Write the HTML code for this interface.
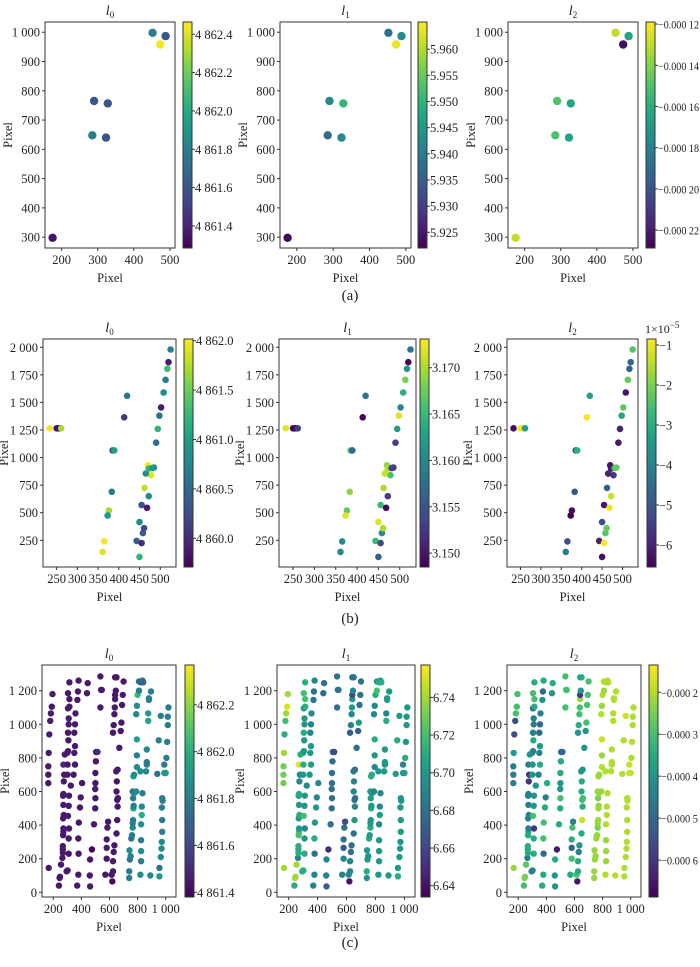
<!DOCTYPE html>
<html><head><meta charset="utf-8">
<style>
html,body{margin:0;padding:0;background:#fff;}
svg, svg text{font-family:"Liberation Serif","Times New Roman","Nimbus Roman","DejaVu Serif",serif;}
</style></head>
<body>
<svg id="fig" width="700" height="962" viewBox="0 0 700 962" xmlns="http://www.w3.org/2000/svg" font-family="Liberation Serif, Times New Roman, serif"></svg>
<script>
// ---------- Row (a) data ----------
const aX = [175, 290, 328, 285, 323, 452, 488, 473];
const aY = [298, 765, 757, 648, 640, 998, 987, 958];
const aL0 = [4861.35, 4861.6, 4861.6, 4861.8, 4861.6, 4861.8, 4861.6, 4862.45];
const aL1 = [5.923, 5.942, 5.950, 5.937, 5.942, 5.938, 5.943, 5.964];
const aL2 = [-0.000130, -0.000150, -0.000165, -0.000150, -0.000165, -0.000130, -0.000165, -0.000225];
const aXTicks = [200, 300, 400, 500];
const aYTicks = [300, 400, 500, 600, 700, 800, 900, 1000];

// ---------- Row (b) data ----------
const bX = [233,250,254,257,261,385,389,420,413,383,376,373,365,361,450,443,455,458,461,450,455,468,472,462,470,478,465,472,481,485,490,494,498,502,508,513,517,520,525];
const bY = [1265,1265,1265,1265,1265,1065,1065,1560,1365,690,520,475,240,145,100,245,225,315,360,415,570,545,650,725,930,840,855,900,905,910,1135,1260,1380,1455,1590,1705,1805,1865,1980];
const bL0 = [4862.0,4859.8,4859.8,4859.8,4861.7,4860.2,4861.0,4860.6,4860.1,4860.7,4861.7,4860.9,4862.0,4861.9,4861.2,4860.4,4860.0,4860.4,4860.2,4860.8,4860.3,4859.9,4860.8,4861.8,4862.0,4861.9,4860.8,4861.2,4860.9,4860.9,4860.5,4861.2,4860.6,4859.9,4860.8,4860.7,4861.3,4859.9,4860.7];
const bL1 = [3.172,3.149,3.149,3.149,3.153,3.166,3.157,3.158,3.149,3.169,3.167,3.172,3.160,3.160,3.156,3.165,3.154,3.160,3.170,3.172,3.165,3.149,3.153,3.170,3.169,3.166,3.171,3.170,3.153,3.153,3.153,3.162,3.172,3.160,3.164,3.168,3.161,3.149,3.158];
const bL2 = [-6.3,-0.9,-0.9,-0.9,-3.3,-4.8,-3.0,-3.3,-0.9,-5.0,-6.3,-6.5,-5.2,-4.2,-6.3,-6.0,-0.8,-2.4,-2.2,-5.2,-6.2,-1.0,-1.3,-4.8,-6.3,-5.6,-6.0,-6.1,-2.5,-2.2,-6.2,-6.0,-3.2,-2.3,-6.2,-2.2,-4.8,-4.6,-2.4];
const bXTicks = [250, 300, 350, 400, 450, 500];
const bYTicks = [250, 500, 750, 1000, 1250, 1500, 1750, 2000];

// ---------- Row (c) data ----------
const cX = [168,165,165,165,168,172,178,183,190,195,
 240,245,248,255,
 265,268,268,268,270,272,272,270,275,272,270,272,275,278,272,282,
 295,302,310,310,312,305,310,312,325,300,302,300,305,308,305,310,310,305,315,315,305,315,
 345,355,350,355,350,355,358,
 370,378,380,378,382,390,395,405,372,375,380,
 440,445,462,460,462,475,
 490,498,500,498,500,500,503,505,515,
 535,540,545,535,
 570,580,580,580,585,590,
 620,615,625,625,630,635,625,630,635,638,640,640,645,650,640,
 650,655,658,655,660,650,652,648,658,
 670,680,685,690,695,700,
 740,740,745,750,742,
 755,760,765,765,768,770,772,768,775,765,770,775,
 790,795,795,795,790,795,800,810,810,
 820,825,825,825,825,830,830,835,820,
 825,835,840,
 860,865,865,865,875,875,880,880,895,890,
 940,950,
 955,955,965,970,972,975,975,972,978,975,
 990,1000,990,965,
 1005,1010,1015,1015,1020];
const cY = [145,650,700,750,830,940,1020,1065,1105,1180,
 40,85,92,165,
 205,235,255,275,340,360,380,440,460,520,575,585,660,700,760,820,
 125,130,230,320,380,455,515,575,635,700,760,830,840,905,950,1000,1035,1095,1105,1150,1185,1250,
 700,760,830,870,950,1000,1065,
 40,105,230,320,415,505,565,650,1145,1195,1260,
 1185,1245,35,100,195,255,
 405,500,560,615,650,710,780,835,835,
 1100,1205,1205,1285,
 105,200,265,315,385,420,
 65,105,125,185,240,280,950,995,1060,1100,1150,1175,1200,1280,1280,
 350,430,510,550,560,600,660,720,730,
 860,960,1010,1115,1175,1255,
 85,125,195,215,250,
 320,340,385,410,430,500,515,560,590,600,690,700,
 600,745,815,910,1060,1110,1175,1200,1255,
 105,185,245,310,405,460,510,590,720,
 1250,1260,1250,
 720,760,775,850,1020,1065,1145,1155,1195,100,
 705,905,
 95,145,210,260,300,360,430,505,545,560,
 710,710,760,1050,
 800,895,995,1045,1100];
const cL0 = [4861.45,4861.45,4861.45,4861.45,4861.45,4861.45,4861.45,4861.45,4861.45,4861.45,
 4861.45,4861.45,4861.45,4861.45,
 4861.45,4861.45,4861.45,4861.45,4861.45,4861.45,4861.45,4861.45,4861.45,4861.45,4861.45,4861.45,4861.45,4861.45,4861.5,4861.45,
 4861.45,4861.45,4861.45,4861.45,4861.45,4861.45,4861.45,4861.45,4861.45,4861.45,4861.45,4861.45,4861.45,4861.45,4861.45,4861.45,4861.45,4861.45,4861.45,4861.45,4861.45,4861.45,
 4861.45,4861.45,4861.45,4861.45,4861.45,4861.45,4861.45,
 4861.45,4861.45,4861.45,4861.45,4861.45,4861.45,4861.45,4861.45,4861.45,4861.45,4861.45,
 4861.45,4861.45,4861.45,4861.45,4861.45,4861.37,
 4861.45,4861.45,4861.45,4861.45,4861.45,4861.45,4861.45,4861.45,4861.5,
 4861.45,4861.45,4861.45,4861.45,
 4861.45,4861.45,4861.45,4861.45,4861.45,4861.45,
 4861.4,4861.45,4861.45,4861.45,4861.45,4861.45,4861.45,4861.45,4861.45,4861.45,4861.45,4861.45,4861.45,4861.45,4861.45,
 4861.45,4861.45,4861.45,4861.45,4861.45,4861.45,4861.45,4861.45,4861.45,
 4861.45,4861.45,4861.45,4861.45,4861.45,4861.45,
 4861.8,4861.8,4861.75,4861.8,4861.85,
 4861.75,4861.8,4861.85,4861.8,4861.8,4861.95,4861.8,4861.8,4861.85,4861.8,4861.95,4861.85,
 4861.85,4861.85,4861.8,4861.95,4861.85,4861.85,4862.05,4861.8,4861.75,
 4861.85,4861.8,4861.85,4861.8,4861.85,4862.0,4861.85,4861.8,4861.85,
 4861.7,4861.75,4861.7,
 4861.85,4861.8,4861.8,4861.85,4861.95,4861.9,4861.8,4861.8,4861.8,4861.85,
 4861.75,4861.8,
 4861.9,4861.75,4861.85,4861.85,4861.85,4861.8,4861.8,4861.8,4861.8,4861.8,
 4861.9,4861.9,4861.8,4861.8,
 4861.8,4861.8,4861.8,4861.8,4861.8];
const cL1 = [6.74,6.73,6.73,6.73,6.74,6.71,6.72,6.74,6.75,6.74,
 6.71,6.74,6.74,6.74,
 6.69,6.71,6.71,6.71,6.72,6.72,6.70,6.70,6.71,6.70,6.70,6.71,6.69,6.69,6.75,6.71,
 6.71,6.71,6.71,6.70,6.69,6.72,6.70,6.70,6.69,6.70,6.71,6.71,6.70,6.70,6.71,6.70,6.70,6.70,6.71,6.72,6.72,6.71,
 6.70,6.70,6.70,6.70,6.69,6.69,6.69,
 6.69,6.69,6.68,6.71,6.70,6.70,6.69,6.69,6.68,6.68,6.69,
 6.68,6.68,6.67,6.69,6.69,6.65,
 6.68,6.68,6.68,6.68,6.68,6.68,6.68,6.68,6.66,
 6.68,6.68,6.68,6.68,
 6.69,6.69,6.67,6.68,6.68,6.66,
 6.64,6.69,6.69,6.69,6.68,6.68,6.67,6.69,6.69,6.70,6.70,6.66,6.69,6.68,6.68,
 6.68,6.70,6.69,6.68,6.68,6.69,6.69,6.69,6.68,
 6.68,6.67,6.70,6.68,6.68,6.68,
 6.70,6.71,6.70,6.70,6.70,
 6.71,6.70,6.71,6.70,6.70,6.71,6.70,6.70,6.70,6.70,6.71,6.71,
 6.69,6.69,6.70,6.71,6.69,6.69,6.71,6.72,6.70,
 6.70,6.70,6.70,6.70,6.69,6.70,6.69,6.69,6.70,
 6.71,6.70,6.71,
 6.70,6.70,6.70,6.70,6.71,6.69,6.70,6.70,6.70,6.70,
 6.70,6.71,
 6.71,6.70,6.70,6.70,6.70,6.70,6.70,6.70,6.70,6.70,
 6.70,6.70,6.69,6.70,
 6.71,6.70,6.70,6.70,6.70];
const cL2 = [-0.00022,-0.00045,-0.00045,-0.00045,-0.00040,-0.00055,-0.00055,-0.00030,-0.00030,-0.00030,
 -0.00030,-0.00025,-0.00025,-0.00028,
 -0.00045,-0.00035,-0.00035,-0.00035,-0.00035,-0.00035,-0.00045,-0.00045,-0.00045,-0.00045,-0.00045,-0.00045,-0.0006,-0.0006,-0.00045,-0.0004,
 -0.00045,-0.00045,-0.00035,-0.00035,-0.0006,-0.0003,-0.0004,-0.0004,-0.0004,-0.0004,-0.0004,-0.0004,-0.00045,-0.00035,-0.00045,-0.00045,-0.00045,-0.0005,-0.00035,-0.0003,-0.0003,-0.00035,
 -0.00045,-0.00035,-0.00045,-0.0004,-0.0005,-0.0005,-0.00045,
 -0.00035,-0.00035,-0.0005,-0.0003,-0.0003,-0.00035,-0.00045,-0.00035,-0.0004,-0.0005,-0.00035,
 -0.0004,-0.00035,-0.0004,-0.0004,-0.00035,-0.00065,
 -0.00035,-0.00035,-0.0003,-0.0004,-0.0004,-0.00035,-0.00035,-0.0005,-0.0005,
 -0.0003,-0.0003,-0.0003,-0.0003,
 -0.00035,-0.0003,-0.0005,-0.00035,-0.0003,-0.00045,
 -0.00065,-0.0003,-0.00035,-0.00035,-0.00045,-0.0004,-0.0004,-0.00035,-0.0003,-0.0003,-0.00022,-0.0006,-0.0004,-0.00035,-0.00035,
 -0.00035,-0.00018,-0.00035,-0.0003,-0.0003,-0.00035,-0.00035,-0.0004,-0.0004,
 -0.0004,-0.0004,-0.0003,-0.0003,-0.0003,-0.0003,
 -0.00022,-0.00022,-0.00022,-0.00022,-0.00022,
 -0.00022,-0.00022,-0.00025,-0.00022,-0.00022,-0.00022,-0.00022,-0.00025,-0.00022,-0.00022,-0.00022,-0.00022,
 -0.00022,-0.0002,-0.00022,-0.00018,-0.0002,-0.00022,-0.0002,-0.00022,-0.0002,
 -0.0002,-0.00022,-0.00022,-0.00022,-0.0002,-0.0002,-0.0002,-0.0002,-0.0002,
 -0.0002,-0.0002,-0.0002,
 -0.0002,-0.0002,-0.0002,-0.0002,-0.0002,-0.0002,-0.0002,-0.0002,-0.0002,-0.0002,
 -0.0002,-0.0002,
 -0.0002,-0.0002,-0.0002,-0.0002,-0.0002,-0.0002,-0.0002,-0.0002,-0.0002,-0.0002,
 -0.00018,-0.00018,-0.00018,-0.00018,
 -0.0002,-0.0002,-0.0002,-0.0002,-0.0002];
const cXTicks = [200, 400, 600, 800, 1000];
const cYTicks = [0, 200, 400, 600, 800, 1000, 1200];

// colorbar ranges and tick labels
const aCb0 = [4861.285, 4862.464]; const aCb0Ticks = [4861.4, 4861.6, 4861.8, 4862.0, 4862.2, 4862.4];
const aCb1 = [5.922, 5.9652]; const aCb1Ticks = [5.925, 5.930, 5.935, 5.940, 5.945, 5.950, 5.955, 5.960];
const aCb2 = [-0.0002287, -0.000119]; const aCb2Ticks = [-0.00022, -0.00020, -0.00018, -0.00016, -0.00014, -0.00012];
const bCb0 = [4859.71, 4862.017]; const bCb0Ticks = [4860.0, 4860.5, 4861.0, 4861.5, 4862.0];
const bCb1 = [3.1485, 3.1731]; const bCb1Ticks = [3.150, 3.155, 3.160, 3.165, 3.170];
const bCb2 = [-6.55, -0.85]; const bCb2Ticks = [-6, -5, -4, -3, -2, -1];
const cCb0 = [4861.38, 4862.37]; const cCb0Ticks = [4861.4, 4861.6, 4861.8, 4862.0, 4862.2];
const cCb1 = [6.634, 6.7572]; const cCb1Ticks = [6.64, 6.66, 6.68, 6.70, 6.72, 6.74];
const cCb2 = [-0.000688, -0.000135]; const cCb2Ticks = [-0.0006, -0.0005, -0.0004, -0.0003, -0.0002];

const NS = "http://www.w3.org/2000/svg";
const svg = document.getElementById('fig');
const FF = '"Liberation Serif","Times New Roman",serif';
function el(tag, attrs, parent) {
  const e = document.createElementNS(NS, tag);
  for (const k in attrs) e.setAttribute(k, attrs[k]);
  (parent || svg).appendChild(e);
  return e;
}
const VIR = ["#440154","#482475","#414487","#355f8d","#2a788e","#21918c","#22a884","#44bf70","#7ad151","#bddf26","#fde725"];
function hex(h){return [parseInt(h.substr(1,2),16),parseInt(h.substr(3,2),16),parseInt(h.substr(5,2),16)];}
function viridis(t){
  t = Math.max(0, Math.min(1, t));
  const f = t*10, i = Math.min(9, Math.floor(f)), u = f - i;
  const a = hex(VIR[i]), b = hex(VIR[i+1]);
  return "rgb(" + a.map((v,j)=>Math.round(v+(b[j]-v)*u)).join(",") + ")";
}
function fmtThousands(v, dec){
  let s = Math.abs(v).toFixed(dec);
  let [ip, fp] = s.split(".");
  ip = ip.replace(/\B(?=(\d{3})+(?!\d))/g, " ");
  let r = ip + (fp ? "." + fp : "");
  return (v < 0 ? "\u2212" : "") + r;
}
function fmtSmall(v){
  let s = Math.abs(v).toFixed(5);
  s = s.slice(0,5) + " " + s.slice(5);
  return "\u2212" + s;
}
function fmtSmall4(v){
  let s = Math.abs(v).toFixed(4);
  s = s.slice(0,5) + " " + s.slice(5);
  return "\u2212" + s;
}

function panel(cfg){
  const g = el('g', {'font-family': FF});
  
  
  const {L, R, T, B, xd, yd} = cfg;
  const sx = v => L + (v - xd[0]) / (xd[1] - xd[0]) * (R - L);
  const sy = v => B - (v - yd[0]) / (yd[1] - yd[0]) * (B - T);
  const pg = el('g', {}, g);
  
  
  const n = Math.min(cfg.xs.length, cfg.ys.length, cfg.vals.length);
  for (let i = 0; i < n; i++) {
    const t = (cfg.vals[i] - cfg.cb[0]) / (cfg.cb[1] - cfg.cb[0]);
    const c = el('circle', {cx: sx(cfg.xs[i]).toFixed(1), cy: sy(cfg.ys[i]).toFixed(1), r: cfg.r, fill: viridis(t)}, pg);
    
    
  }
  const fr = el('rect', {x: L, y: T, width: R - L, height: B - T, fill: 'none', stroke: '#333', 'stroke-width': 1}, g);
  
  
  const xa = el('g', {'font-size': 12.5, fill: '#222', 'text-anchor': 'middle'}, g);
  
  
  cfg.xt.forEach(v => {
    const x = sx(v);
    el('line', {x1: x, x2: x, y1: B, y2: B + 3, stroke: '#333'}, xa);
    const t = el('text', {x: x, y: B + 16}, xa);
    t.textContent = fmtThousands(v, 0);
  });
  const xl = el('text', {x: (L + R) / 2, y: B + 34, 'font-size': 12.5, 'text-anchor': 'middle', fill: '#222'}, g);
  xl.textContent = 'Pixel';
  
  
  const ya = el('g', {'font-size': 12.5, fill: '#222', 'text-anchor': 'end'}, g);
  
  
  cfg.yt.forEach(v => {
    const y = sy(v);
    el('line', {x1: L - 3, x2: L, y1: y, y2: y, stroke: '#333'}, ya);
    const t = el('text', {x: L - 5, y: y + 4.5}, ya);
    t.textContent = fmtThousands(v, 0);
  });
  const yl = el('text', {x: 0, y: 0, 'font-size': 12.5, 'text-anchor': 'middle', fill: '#222', transform: `translate(${cfg.ylx},${(T + B) / 2}) rotate(-90)`}, g);
  yl.textContent = 'Pixel';
  
  
  const ti = el('text', {x: (L + R) / 2, y: T - 7, 'font-size': 14, 'text-anchor': 'middle', fill: '#222'}, g);
  
  
  const ts1 = el('tspan', {'font-style': 'italic'}, ti); ts1.textContent = 'l';
  const ts2 = el('tspan', {'font-size': 9, dy: 3}, ti); ts2.textContent = cfg.sub;
  const cbg = el('g', {}, g);
  
  
  const gid = 'grad-' + cfg.name;
  const defs = el('defs', {}, cbg);
  const lg = el('linearGradient', {id: gid, x1: 0, y1: 1, x2: 0, y2: 0}, defs);
  VIR.forEach((c, i) => el('stop', {offset: (i / 10), 'stop-color': c}, lg));
  el('rect', {x: cfg.cbL, y: T, width: cfg.cbW, height: B - T, fill: `url(#${gid})`, stroke: '#333', 'stroke-width': 1}, cbg);
  const cbs = v => B - (v - cfg.cb[0]) / (cfg.cb[1] - cfg.cb[0]) * (B - T);
  cfg.cbt.forEach(v => {
    const y = cbs(v);
    el('line', {x1: cfg.cbL + cfg.cbW, x2: cfg.cbL + cfg.cbW + 3, y1: y, y2: y, stroke: '#333'}, cbg);
    const attrs = {x: cfg.cbL + cfg.cbW + 3, y: y + 4.5, 'font-size': cfg.cbfs || 12.5, fill: '#222'};
    if (cfg.cbtl) { attrs.textLength = cfg.cbtl; attrs.lengthAdjust = 'spacingAndGlyphs'; }
    const t = el('text', attrs, cbg);
    t.textContent = cfg.fmt(v);
    
    
  });
  if (cfg.exp) {
    const e = el('text', {x: cfg.cbL - 2, y: T - 6, 'font-size': 12, fill: '#222'}, cbg);
    
    
    const a = el('tspan', {}, e); a.textContent = '1\u00d710';
    const b = el('tspan', {dy: -5, 'font-size': 9}, e); b.textContent = '\u22125';
  }
}

const f1 = v => fmtThousands(v, 1);
const f3 = v => v.toFixed(3);
const f2 = v => v.toFixed(2);
const fi = v => "\u2212" + Math.abs(v).toFixed(0);

const aT = 22, aB = 248, aXD = [154, 514], aYD = [263, 1035];
panel({name:'panel-a-l0', L:45, R:175, T:aT, B:aB, xd:aXD, yd:aYD, xs:aX, ys:aY, vals:aL0, cb:aCb0, cbt:aCb0Ticks, fmt:f1, cbL:183, cbW:9, xt:aXTicks, yt:aYTicks, sub:'0', ylx:12, r:4.2});
panel({name:'panel-a-l1', L:280, R:411, T:aT, B:aB, xd:aXD, yd:aYD, xs:aX, ys:aY, vals:aL1, cb:aCb1, cbt:aCb1Ticks, fmt:f3, cbL:418, cbW:9, xt:aXTicks, yt:aYTicks, sub:'1', ylx:247, r:4.2});
panel({name:'panel-a-l2', L:508, R:638, T:aT, B:aB, xd:aXD, yd:aYD, xs:aX, ys:aY, vals:aL2, cb:aCb2, cbt:aCb2Ticks, fmt:fmtSmall, cbL:646, cbW:9, xt:aXTicks, yt:aYTicks, sub:'2', ylx:475, r:4.2, cbfs:11.5, cbtl:41});
const bT = 339, bB = 567, bXD = [217, 538], bYD = [8, 2075];
panel({name:'panel-b-l0', L:43, R:176, T:bT, B:bB, xd:bXD, yd:bYD, xs:bX, ys:bY, vals:bL0, cb:bCb0, cbt:bCb0Ticks, fmt:f1, cbL:184, cbW:9, xt:bXTicks, yt:bYTicks, sub:'0', ylx:8, r:3.3});
panel({name:'panel-b-l1', L:279, R:416, T:bT, B:bB, xd:bXD, yd:bYD, xs:bX, ys:bY, vals:bL1, cb:bCb1, cbt:bCb1Ticks, fmt:f3, cbL:420, cbW:9, xt:bXTicks, yt:bYTicks, sub:'1', ylx:244, r:3.3});
panel({name:'panel-b-l2', L:507, R:638, T:bT, B:bB, xd:bXD, yd:bYD, xs:bX, ys:bY, vals:bL2, cb:bCb2, cbt:bCb2Ticks, fmt:fi, cbL:647, cbW:9, xt:bXTicks, yt:bYTicks, sub:'2', ylx:472, r:3.3, exp:true});
const cT = 665, cB = 897, cXD = [120, 1073], cYD = [-28, 1353];
panel({name:'panel-c-l0', L:42, R:176, T:cT, B:cB, xd:cXD, yd:cYD, xs:cX, ys:cY, vals:cL0, cb:cCb0, cbt:cCb0Ticks, fmt:f1, cbL:185, cbW:9, xt:cXTicks, yt:cYTicks, sub:'0', ylx:9, r:3.2});
panel({name:'panel-c-l1', L:277, R:415, T:cT, B:cB, xd:cXD, yd:cYD, xs:cX, ys:cY, vals:cL1, cb:cCb1, cbt:cCb1Ticks, fmt:f2, cbL:421, cbW:9, xt:cXTicks, yt:cYTicks, sub:'1', ylx:244, r:3.2});
panel({name:'panel-c-l2', L:507, R:641, T:cT, B:cB, xd:cXD, yd:cYD, xs:cX, ys:cY, vals:cL2, cb:cCb2, cbt:cCb2Ticks, fmt:fmtSmall4, cbL:649, cbW:9, xt:cXTicks, yt:cYTicks, sub:'2', ylx:473, r:3.2, cbfs:11.5, cbtl:37});

[['(a)', 300], ['(b)', 623], ['(c)', 947]].forEach(([s, y]) => {
  const t = el('text', {x: 350, y: y, 'font-size': 15, 'text-anchor': 'middle', fill: '#222', 'font-family': FF});
  t.textContent = s;
  
  
});
</script>
</body></html>
